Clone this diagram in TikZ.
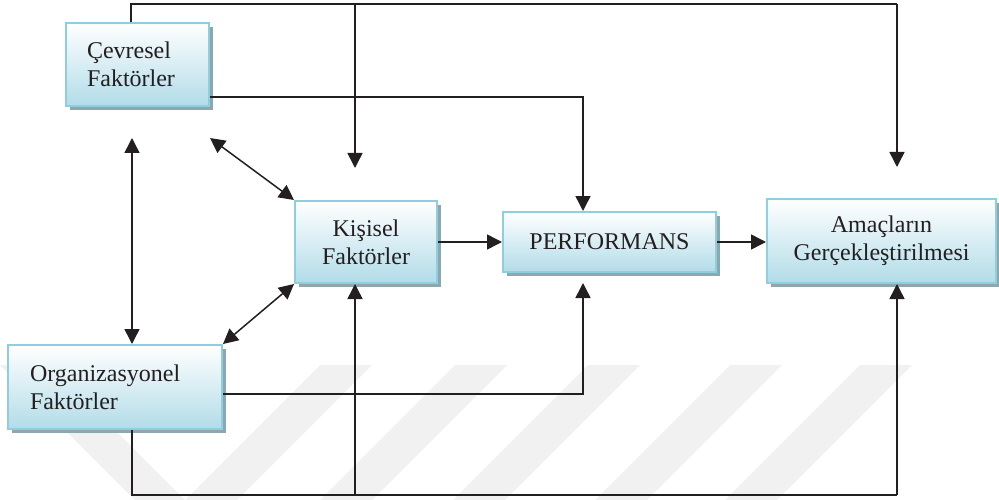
\documentclass[tikz,border=0pt]{standalone}
\usepackage{fontspec}
\setmainfont{Liberation Serif}
\usetikzlibrary{arrows.meta,shadows}
\definecolor{ink}{HTML}{231F20}
\definecolor{boxline}{HTML}{8CCFE0}
\definecolor{boxfill}{HTML}{B2DCE8}
\definecolor{boxshade}{HTML}{8FA7AC}
\definecolor{stripe}{HTML}{F1F1F1}
\begin{document}
\begin{tikzpicture}[x=1pt,y=-1pt,
  factor/.style={draw=boxline, line width=2pt, top color=white, bottom color=boxfill,
    drop shadow={shadow xshift=4pt, shadow yshift=-4pt, fill=boxshade, opacity=1},
    font=\fontsize{24}{28}\selectfont, text=ink, inner sep=0pt},
  link/.style={draw=ink, line width=1.5pt},
  arr/.style={link, -{Triangle[length=15pt,width=15pt]}},
  twoway/.style={link, {Triangle[length=15pt,width=15pt]}-{Triangle[length=15pt,width=15pt]}},
]
\useasboundingbox (0,0) rectangle (999,500);

% faint diagonal bands in the background
\fill[stripe] (0,365) -- (50,365) -- (185,500) -- (135,500) -- cycle;
\foreach \s in {320,455,588,730,860}
  \fill[stripe] (\s,365) -- (\s+52,365) -- (\s-83,500) -- (\s-135,500) -- cycle;

% factor boxes
\node[factor, minimum width=143pt, minimum height=83pt, text width=101pt, align=left]
  (cev) at (137.5,64.5) {Çevresel\\Faktörler};
\node[factor, minimum width=142pt, minimum height=82pt, text width=120pt, align=center]
  (kis) at (366,242) {Kişisel\\Faktörler};
\node[factor, minimum width=213pt, minimum height=60pt, text width=190pt, align=center]
  (per) at (609.5,242) {PERFORMANS};
\node[factor, minimum width=229pt, minimum height=84pt, text width=210pt, align=center]
  (ama) at (881.5,241) {Amaçların\\Gerçekleştirilmesi};
\node[factor, minimum width=214pt, minimum height=84pt, text width=170pt, align=left]
  (org) at (115,387) {Organizasyonel\\Faktörler};

% route points
\coordinate (topL) at (131,4);
\coordinate (topK) at (355,4);
\coordinate (topR) at (897,4);
\coordinate (kisIn) at (355,168);
\coordinate (amaIn) at (897,167);
\coordinate (cevOut) at (583,97);
\coordinate (orgOut) at (583,394);
\coordinate (perIn) at (583,283);
\coordinate (botL) at (132,495);
\coordinate (botK) at (355,495);
\coordinate (botR) at (897,495);
\coordinate (cevLow) at (132,138);
\coordinate (cevDiag) at (210,138);

% connectors
\draw[link] (cev.north -| topL) -- (topL) -- (topR);
\draw[arr] (topR) -- (amaIn);
\draw[arr] (topK) -- (kisIn);
\draw[arr] (cev.east |- cevOut) -- (cevOut) -- (per.north -| cevOut);
\draw[arr] (kis.east) -- (per.west);
\draw[arr] (per.east) -- (per.east -| ama.west);
\draw[arr] (org.east |- orgOut) -- (orgOut) -- (perIn);
\draw[link] (org.south -| botL) -- (botL) -- (botR);
\draw[arr] (botR) -- (ama.south -| botR);
\draw[arr] (botK) -- (kis.south -| botK);
\draw[twoway] (cevLow) -- (org.north -| cevLow);
\draw[twoway] (cevDiag) -- (kis.north west);
\draw[twoway] (org.north east) -- (kis.south west);
\end{tikzpicture}
\end{document}
